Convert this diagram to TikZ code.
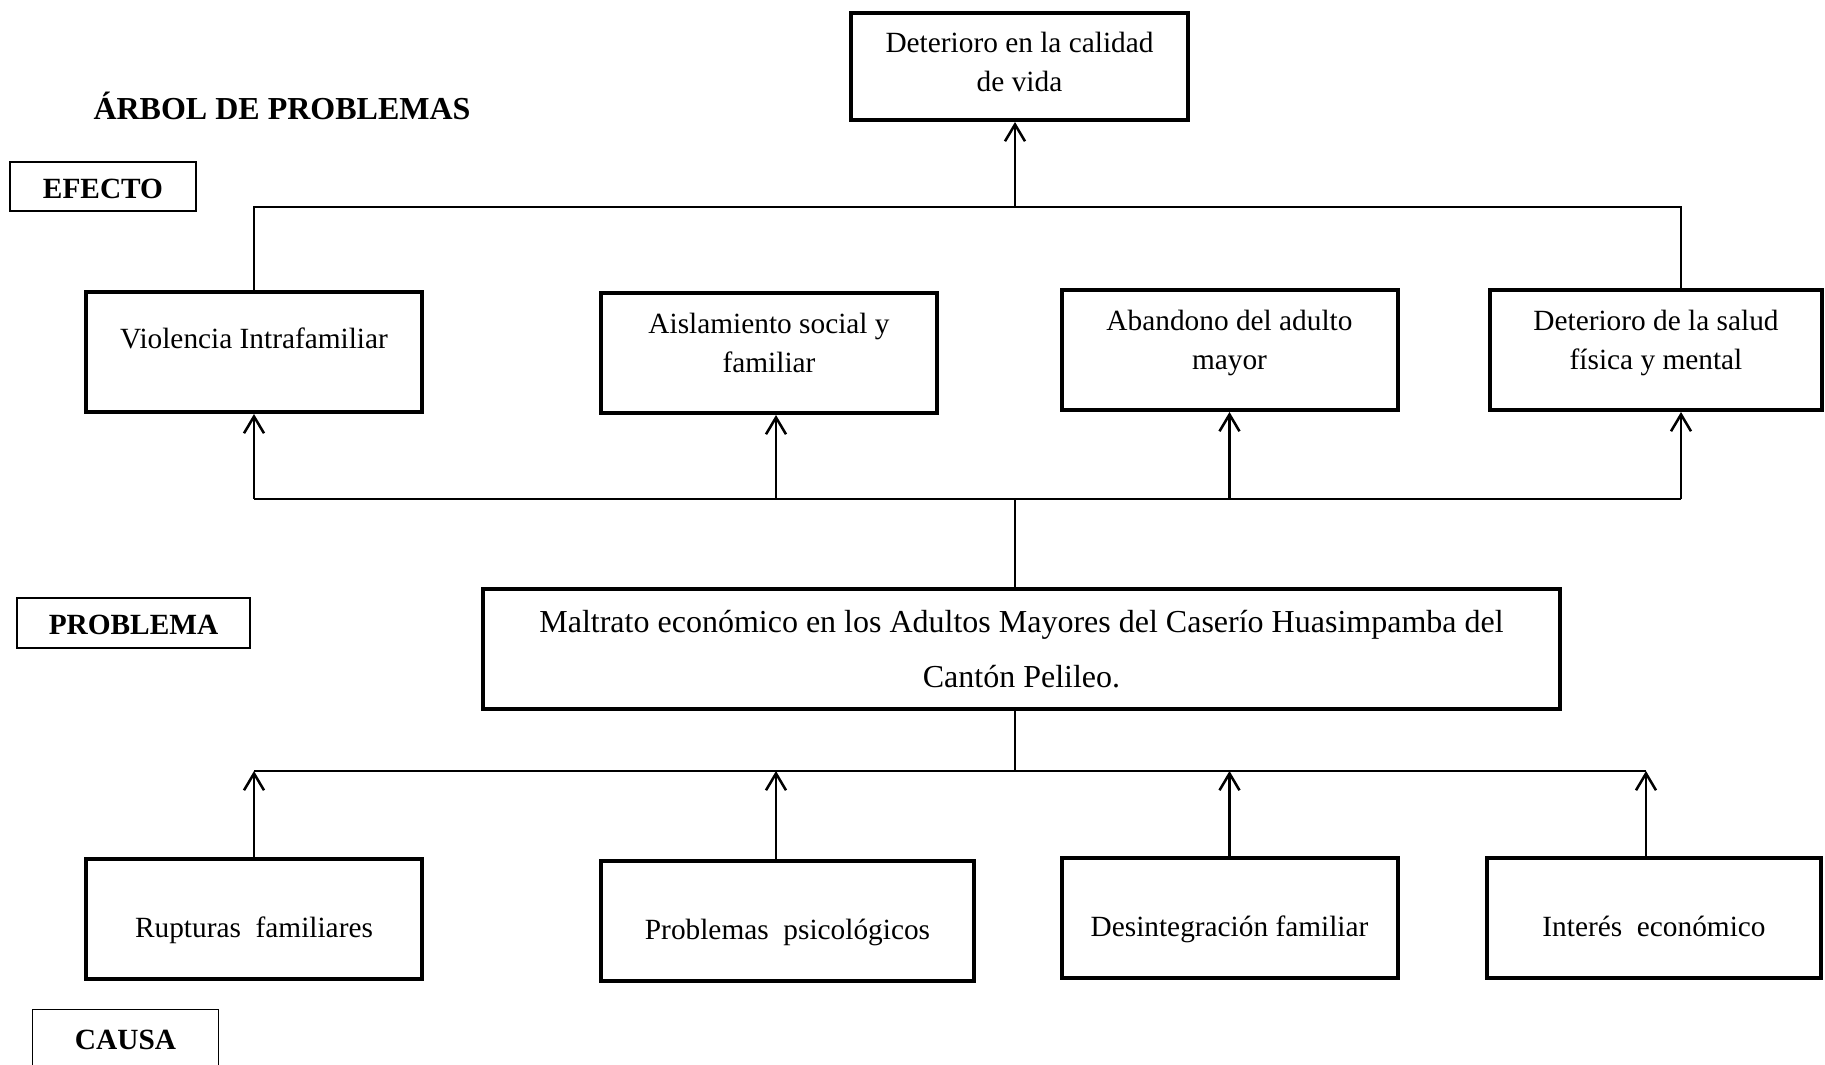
\documentclass[tikz,border=0pt]{standalone}
\usepackage{fontspec}
\setmainfont{Liberation Serif}
\usetikzlibrary{arrows.meta}

\begin{document}
\begin{tikzpicture}[x=0.375pt,y=-0.375pt,
  caja/.style={draw, line width=1.5pt, align=center, inner sep=0pt, minimum width=336*0.375pt, minimum height=120*0.375pt, font=\fontsize{11}{14.5}\selectfont},
  arriba/.style={text height=7.6pt, text depth=#1},
  subir/.style={text height=22.1pt, text depth=#1},
  abajo/.style={text height=16.5pt, text depth=2.5pt},
  etiqueta/.style={draw, line width=0.5pt, inner sep=0pt, minimum height=49*0.375pt, text height=9pt, text depth=0pt, font=\fontsize{11}{13}\selectfont\bfseries},
  fina/.style={line width=0.6pt},
  flecha/.style={line width=0.95pt, -{Straight Barb[length=6.3pt,width=7.5pt]}}]
\useasboundingbox (0,0) rectangle (1825,1065);
% titulo y etiquetas
\node[anchor=west, inner sep=0pt, font=\fontsize{12}{14}\selectfont\bfseries] (titulo) at (93,106) {ÁRBOL DE PROBLEMAS};
\node[etiqueta, minimum width=186*0.375pt] (efecto) at (103,186.5) {EFECTO};
\node[etiqueta, minimum width=233*0.375pt, minimum height=50*0.375pt] (problema) at (133.5,623) {PROBLEMA};
\node[etiqueta, draw=none, minimum width=185*0.375pt, minimum height=54*0.375pt] (causa) at (125.5,1037) {CAUSA};
\draw[line width=0.5pt] (causa.south west) |- (causa.north east) -- (causa.south east);
% efectos
\node[caja, subir=3.7pt, minimum width=337*0.375pt, minimum height=107*0.375pt] (calidad) at (1019.5,66.5) {Deterioro en la calidad\\de vida};
\node[caja, arriba=10.5pt] (violencia) at (254,352) {Violencia Intrafamiliar};
\node[caja, subir=7.8pt] (aislamiento) at (769,353) {Aislamiento social y\\familiar};
\node[caja, subir=7.6pt] (abandono) at (1229.5,350) {Abandono del adulto\\mayor};
\node[caja, subir=7.6pt, minimum width=332*0.375pt] (salud) at (1656,350) {Deterioro de la salud\\física y mental};
% problema
\node[caja, minimum width=1077*0.375pt, font=\fontsize{12}{20.6}\selectfont] (maltrato) at (1021.5,649) {Maltrato económico en los Adultos Mayores del Caserío Huasimpamba del\\Cantón Pelileo.};
% causas
\node[caja, abajo] (rupturas) at (254,919) {Rupturas~~familiares};
\node[caja, abajo, minimum width=373*0.375pt] (psico) at (787.5,921) {Problemas~~psicológicos};
\node[caja, abajo] (desintegracion) at (1229.5,918) {Desintegración familiar};
\node[caja, abajo, minimum width=334*0.375pt] (interes) at (1654,917.5) {Interés~~económico};
% efectos -> calidad de vida
\coordinate (topL) at (254,207); \coordinate (topR) at (1681,207); \coordinate (topM) at (1015,207);
\draw[fina] (violencia.north) -- (topL) -- (topR) -- (topR |- salud.north);
\draw[flecha] (topM) -- (topM |- calidad.south);
% problema -> efectos
\coordinate (pm) at (1015,0);
\coordinate (efL) at (254,499); \coordinate (efR) at (1681,499); \coordinate (ef2) at (776,499);
\draw[fina] (efL) -- (efR);
\draw[fina] (pm |- maltrato.north) -- (pm |- efL);
\draw[flecha] (efL) -- (violencia.south);
\draw[flecha] (ef2) -- (ef2 |- aislamiento.south);
\draw[flecha] (abandono.south |- efL) -- (abandono.south);
\draw[flecha] (efR) -- (efR |- salud.south);
% causas -> problema
\coordinate (caL) at (254,771); \coordinate (caR) at (1646,771); \coordinate (ca2) at (776,771);
\draw[fina] (caL) -- (caR);
\draw[fina] (pm |- maltrato.south) -- (pm |- caL);
\draw[flecha] (rupturas.north) -- (caL);
\draw[flecha] (ca2 |- psico.north) -- (ca2);
\draw[flecha] (desintegracion.north) -- (desintegracion.north |- caL);
\draw[flecha] (caR |- interes.north) -- (caR);
\end{tikzpicture}
\end{document}
